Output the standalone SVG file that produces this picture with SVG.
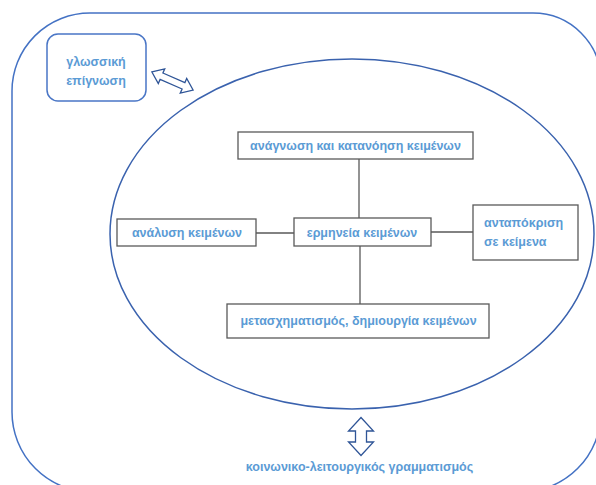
<svg xmlns="http://www.w3.org/2000/svg" width="596" height="485" viewBox="0 0 596 485">
<style>
.frame{fill:none;stroke:#4472C4;stroke-width:1.5}
.ell{fill:none;stroke:#3A62AE;stroke-width:1.5}
.box{fill:#fff;stroke:#595959;stroke-width:1.3}
.rbox{fill:#fff;stroke:#4A76C6;stroke-width:1.5}
.arr{fill:#fff;stroke:#2F5597;stroke-width:1.3;stroke-linejoin:miter}
.conn{stroke:#595959;stroke-width:1.3;fill:none}
text{font-family:"Liberation Sans",Arial,sans-serif;font-weight:bold;font-size:12.5px;fill:#5B9BD5}
.c{text-anchor:middle}
</style>
<rect width="596" height="485" fill="#fff"/>
<g id="outer">
<path class="frame" d="M 90 13 H 533 A 68 68 0 0 1 601 81 V 412 A 80 80 0 0 1 521 492 H 92 A 80 80 0 0 1 12 412 V 91 A 78 78 0 0 1 90 13 Z"/>
</g>
<g id="circle">
<ellipse class="ell" cx="352" cy="234" rx="242" ry="175"/>
</g>
<g id="connectors">
<line class="conn" x1="359" y1="159" x2="359" y2="218"/>
<line class="conn" x1="360" y1="246" x2="360" y2="304"/>
<line class="conn" x1="256" y1="233" x2="294" y2="233"/>
<line class="conn" x1="431" y1="232" x2="473" y2="232"/>
<polygon class="arr" transform="translate(172.5,81) rotate(23.7)" points="-22.5,0 -12,-8 -12,-3.5 12,-3.5 12,-8 22.5,0 12,8 12,3.5 -12,3.5 -12,8"/>
<polygon class="arr" transform="translate(361,436.5)" points="0,-19 12.5,-5.5 5.5,-5.5 5.5,5.5 12.5,5.5 0,19 -12.5,5.5 -5.5,5.5 -5.5,-5.5 -12.5,-5.5"/>
</g>
<g id="glossiki">
<rect class="rbox" x="47" y="34" width="99" height="67" rx="11"/>
<text class="c" x="96" y="66">γλωσσική</text>
<text class="c" x="96" y="85">επίγνωση</text>
</g>
<g id="anagnosi">
<rect class="box" x="238" y="132" width="235" height="27"/>
<text class="c" x="355.5" y="150">ανάγνωση και κατανόηση κειμένων</text>
</g>
<g id="analysi">
<rect class="box" x="117" y="219" width="139" height="27"/>
<text class="c" x="187" y="237">ανάλυση κειμένων</text>
</g>
<g id="ermineia">
<rect class="box" x="294" y="218" width="137" height="28"/>
<text class="c" x="362" y="237">ερμηνεία κειμένων</text>
</g>
<g id="antapokrisi">
<rect class="box" x="473" y="205" width="105" height="55"/>
<text x="484" y="227">ανταπόκριση</text>
<text x="484" y="246">σε κείμενα</text>
</g>
<g id="metasximatismos">
<rect class="box" x="227" y="304" width="262" height="34"/>
<text class="c" x="358.5" y="325">μετασχηματισμός, δημιουργία κειμένων</text>
</g>
<g id="label">
<text class="c" x="359.5" y="471">κοινωνικο-λειτουργικός γραμματισμός</text>
</g>
</svg>
